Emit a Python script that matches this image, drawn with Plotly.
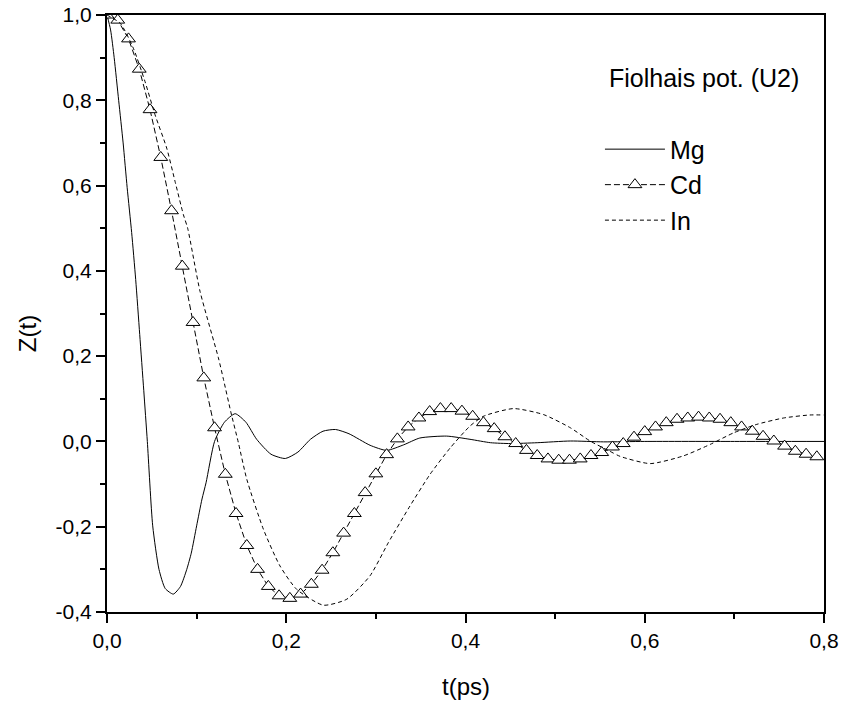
import plotly.graph_objects as go

# ---------------- data ----------------
mg_t = [0.000, 0.004, 0.008, 0.013, 0.018, 0.0225, 0.0275, 0.032, 0.0365, 0.041, 0.045,
        0.051, 0.058, 0.065, 0.074, 0.082, 0.089, 0.094, 0.100, 0.106, 0.1105, 0.120,
        0.131, 0.143, 0.155, 0.167, 0.183, 0.199, 0.213, 0.227, 0.241, 0.255, 0.270,
        0.2935, 0.312, 0.331, 0.349, 0.379, 0.405, 0.428, 0.450, 0.480, 0.517, 0.554,
        0.600, 0.700, 0.800]
mg_z = [1.000, 0.965, 0.900, 0.800, 0.700, 0.595, 0.490, 0.380, 0.251, 0.120, 0.000,
        -0.198, -0.300, -0.345, -0.358, -0.340, -0.300, -0.262, -0.198, -0.135, -0.097, 0.000,
        0.045, 0.065, 0.045, 0.005, -0.030, -0.040, -0.025, 0.005, 0.024, 0.028, 0.018,
        -0.009, -0.021, -0.008, 0.008, 0.0125, 0.005, -0.003, -0.005, -0.003, 0.001, -0.001,
        0.000, 0.000, 0.000]

cd_t = [0.000, 0.012, 0.024, 0.036, 0.048, 0.060, 0.072, 0.084, 0.096, 0.108,
        0.120, 0.132, 0.144, 0.156, 0.168, 0.180, 0.192, 0.204, 0.216, 0.228,
        0.240, 0.252, 0.264, 0.276, 0.288, 0.300, 0.312, 0.324, 0.336, 0.348,
        0.360, 0.372, 0.384, 0.396, 0.408, 0.420, 0.432, 0.444, 0.456, 0.468,
        0.480, 0.492, 0.504, 0.516, 0.528, 0.540, 0.552, 0.564, 0.576, 0.588,
        0.600, 0.612, 0.624, 0.636, 0.648, 0.660, 0.672, 0.684, 0.696, 0.708,
        0.720, 0.732, 0.744, 0.756, 0.768, 0.780, 0.792]
cd_z = [1.000, 0.988, 0.944, 0.873, 0.778, 0.666, 0.541, 0.411, 0.279, 0.149,
        0.032, -0.077, -0.169, -0.244, -0.300, -0.340, -0.362, -0.368, -0.358, -0.335,
        -0.302, -0.261, -0.215, -0.169, -0.120, -0.076, -0.031, 0.006, 0.034, 0.055,
        0.070, 0.077, 0.077, 0.071, 0.059, 0.044, 0.030, 0.011, -0.005, -0.021,
        -0.033, -0.041, -0.044, -0.044, -0.041, -0.033, -0.026, -0.013, -0.005, 0.010,
        0.023, 0.034, 0.044, 0.052, 0.055, 0.057, 0.055, 0.052, 0.044, 0.034,
        0.024, 0.012, 0.001, -0.011, -0.023, -0.030, -0.036]

in_t = [0.000, 0.015, 0.0294, 0.0424, 0.0536, 0.0666, 0.0759, 0.0852, 0.090, 0.1038,
        0.1243, 0.130, 0.1384, 0.1466, 0.156, 0.1745, 0.193, 0.2117, 0.2414, 0.2675,
        0.2935, 0.314, 0.337, 0.3605, 0.383, 0.405, 0.420, 0.4535, 0.487, 0.517,
        0.539, 0.561, 0.5725, 0.606, 0.643, 0.673, 0.699, 0.725, 0.755, 0.784, 0.800]
in_z = [1.000, 0.980, 0.922, 0.844, 0.766, 0.688, 0.610, 0.532, 0.500, 0.352,
        0.196, 0.145, 0.067, -0.003, -0.089, -0.206, -0.292, -0.347, -0.384, -0.370,
        -0.315, -0.237, -0.155, -0.077, -0.015, 0.036, 0.059, 0.077, 0.063, 0.032,
        0.001, -0.023, -0.035, -0.052, -0.034, -0.007, 0.020, 0.040, 0.055, 0.062, 0.062]

x_tickvals = [0.0, 0.2, 0.4, 0.6, 0.8]
x_ticktext = ["0,0", "0,2", "0,4", "0,6", "0,8"]
y_tickvals = [-0.4, -0.2, 0.0, 0.2, 0.4, 0.6, 0.8, 1.0]
y_ticktext = ["-0,4", "-0,2", "0,0", "0,2", "0,4", "0,6", "0,8", "1,0"]

x_title = "t(ps)"
y_title = "Z(t)"
legend_header = "Fiolhais pot. (U2)"

FONT = "Liberation Sans, Arial, sans-serif"

fig = go.Figure()
fig.add_trace(go.Scatter(x=mg_t, y=mg_z, name="Mg", mode="lines",
                         line=dict(color="black", width=1, shape="spline", smoothing=0.6),
                         legendgroup="a"))
fig.add_trace(go.Scatter(x=cd_t, y=cd_z, name="Cd", mode="lines+markers",
                         line=dict(color="black", width=1, dash="6px,3px"),
                         marker=dict(symbol="triangle-up", size=12, color="white",
                                     line=dict(color="black", width=1)),
                         legendgroup="b"))
fig.add_trace(go.Scatter(x=in_t, y=in_z, name="In", mode="lines",
                         line=dict(color="black", width=1, dash="4px,3px", shape="spline", smoothing=0.6),
                         legendgroup="c"))

axis_common = dict(showline=True, linecolor="black", linewidth=2, mirror=True,
                   ticks="outside", ticklen=9, tickwidth=2, tickcolor="black",
                   showgrid=False, zeroline=False, automargin=False,
                   tickfont=dict(family=FONT, size=21, color="black"))

fig.update_xaxes(range=[0, 0.8], tickvals=x_tickvals, ticktext=x_ticktext,
                 minor=dict(ticks="outside", ticklen=5, tickwidth=2, tickcolor="black",
                            dtick=0.1, tick0=0, showgrid=False),
                 **axis_common)
fig.update_yaxes(range=[-0.4, 1.0], tickvals=y_tickvals, ticktext=y_ticktext,
                 minor=dict(ticks="outside", ticklen=5, tickwidth=2, tickcolor="black",
                            dtick=0.1, tick0=0, showgrid=False),
                 **axis_common)

fig.add_annotation(text=x_title, xref="paper", yref="paper", x=0.5, y=-0.125,
                   xanchor="center", yanchor="middle", showarrow=False,
                   font=dict(family=FONT, size=24, color="black"))
fig.add_annotation(text=y_title, xref="paper", yref="paper", x=-0.1116, y=0.467,
                   xanchor="center", yanchor="middle", showarrow=False, textangle=-90,
                   font=dict(family=FONT, size=24, color="black"))
fig.add_annotation(text=legend_header, xref="paper", yref="paper", x=0.697, y=0.8945,
                   xanchor="left", yanchor="middle", showarrow=False,
                   font=dict(family=FONT, size=25, color="black"))

fig.update_layout(
    width=843, height=711,
    margin=dict(l=107, r=19, t=15, b=99),
    paper_bgcolor="white", plot_bgcolor="white",
    showlegend=True,
    legend=dict(x=0.6875, y=0.8134, xanchor="left", yanchor="top",
                bgcolor="rgba(0,0,0,0)", borderwidth=0, itemwidth=60,
                font=dict(family=FONT, size=25, color="black"),
                tracegroupgap=3, traceorder="normal"),
    font=dict(family=FONT, color="black"),
)

fig.write_html("out.html")
